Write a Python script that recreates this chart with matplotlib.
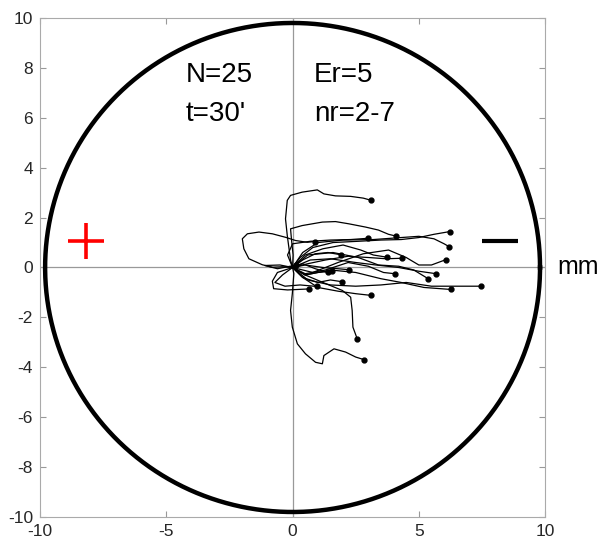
import numpy as np
import matplotlib.pyplot as plt

plt.rcParams['font.family'] = ['Liberation Sans', 'DejaVu Sans']
plt.rcParams['axes.unicode_minus'] = False

# arena / labels
arena_r = 9.8
x_ticks = [-10, -5, 0, 5, 10]
y_ticks = [-10, -8, -6, -4, -2, 0, 2, 4, 6, 8, 10]
txt_left = ["N=25", "t=30'"]
txt_right = ["Er=5", "nr=2-7"]

# waypoints of each track (mm)
paths = [
    [(0, 0), (-0.08, 0.3), (-0.21, 1.28), (-0.28, 1.95), (-0.21, 2.69), (-0.08, 2.89), (0.38, 3.02),
     (0.98, 3.11), (1.24, 2.95), (1.70, 2.87), (2.3, 2.85), (2.8, 2.78), (3.12, 2.69)],
    [(0, 0), (-0.4, 0.03), (-0.80, 0.01), (-1.20, 0.11), (-1.73, 0.35), (-1.93, 0.75), (-1.99, 1.15),
     (-1.79, 1.35), (-1.33, 1.42), (-0.80, 1.35), (-0.28, 1.21), (0.12, 1.08), (0.58, 1.01), (0.88, 1.04)],
    [(0, 0), (0.02, 0.5), (-0.05, 1.2), (-0.08, 1.55), (0.38, 1.68), (1.18, 1.82), (1.70, 1.84),
     (2.23, 1.75), (2.89, 1.62), (3.4, 1.5), (3.8, 1.33), (4.09, 1.26)],
    [(0, 0), (0.3, 0.4), (0.8, 0.8), (1.6, 1.0), (2.6, 1.05), (3.5, 1.1), (4.3, 1.12), (5.0, 1.2),
     (5.6, 1.33), (6.23, 1.44)],
    [(0, 0), (0.4, 0.6), (1.0, 1.0), (2.0, 1.1), (3.2, 1.12), (4.3, 1.2), (5.0, 1.25), (5.6, 1.15),
     (6.0, 0.95), (6.19, 0.84)],
    [(0, 0), (-0.2, 0.5), (0.0, 0.95), (0.7, 1.05), (1.5, 1.1), (2.3, 1.12), (2.98, 1.17)],
    [(0, 0), (0.5, 0.5), (1.2, 0.75), (2.0, 0.9), (2.7, 0.7), (3.2, 0.5), (3.75, 0.41)],
    [(0, 0), (0.6, 0.15), (1.3, 0.3), (2.2, 0.45), (3.0, 0.4), (3.7, 0.35), (4.34, 0.37)],
    [(0, 0), (0.8, -0.2), (1.8, 0.2), (2.8, 0.55), (3.8, 0.7), (4.5, 0.4), (5.0, 0.1), (5.5, 0.1),
     (5.9, 0.25), (6.09, 0.32)],
    [(0, 0), (0.4, 0.3), (0.9, 0.55), (1.4, 0.6), (1.91, 0.51)],
    [(0, 0), (0.7, 0.3), (1.5, 0.35), (2.5, 0.2), (3.3, 0.1), (4.2, 0.0), (5.0, -0.15), (5.69, -0.25)],
    [(0, 0), (0.6, 0.5), (1.6, 0.6), (2.6, 0.4), (3.4, 0.1), (4.2, 0.05), (4.8, -0.1), (5.37, -0.45)],
    [(0, 0), (0.5, -0.25), (1.3, -0.1), (2.2, 0.2), (3.0, 0.05), (3.6, -0.2), (4.05, -0.25)],
    [(0, 0), (0.5, 0.1), (1.2, 0.0), (1.8, -0.05), (2.24, -0.09)],
    [(0, 0), (0.5, -0.3), (1.0, -0.2), (1.57, -0.15)],
    [(0, 0), (0.4, 0.15), (0.9, -0.05), (1.39, -0.20)],
    [(0, 0), (0.4, -0.4), (1.0, -0.6), (1.5, -0.5), (1.95, -0.57)],
    [(0, 0), (0.6, -0.5), (1.5, -0.7), (2.5, -0.75), (3.5, -0.7), (4.5, -0.6), (5.5, -0.75),
     (6.5, -0.75), (7.46, -0.75)],
    [(0, 0), (0.5, -0.3), (1.5, -0.1), (2.5, -0.2), (3.5, -0.45), (4.3, -0.6), (5.2, -0.8), (6.26, -0.88)],
    [(0, 0), (-0.4, -0.3), (-0.7, -0.6), (-0.3, -0.75), (0.3, -0.7), (0.95, -0.76)],
    [(0, 0), (-0.6, -0.2), (-0.8, -0.55), (-0.75, -0.85), (-0.2, -0.9), (0.65, -0.86)],
    [(0, 0), (0.4, -0.4), (1.0, -0.8), (1.8, -0.95), (2.5, -1.05), (3.12, -1.12)],
    [(0, 0), (0.5, -0.3), (1.2, -0.6), (1.97, -0.92), (2.30, -1.19), (2.36, -1.72), (2.39, -2.39),
     (2.56, -2.86)],
    [(0, 0), (0.05, -0.25), (-0.01, -1.05), (-0.08, -1.72), (-0.01, -2.39), (0.19, -3.06), (0.51, -3.46),
     (0.91, -3.80), (1.18, -3.86), (1.24, -3.53), (1.64, -3.26), (2.10, -3.39), (2.50, -3.59),
     (2.82, -3.69)],
    [(0, 0), (-0.5, 0.1), (-1.1, 0.08), (-0.6, -0.05), (0.15, 0.1)],
]

fig = plt.figure(figsize=(6.07, 5.45), dpi=100)
ax = fig.add_axes([0.066, 0.0514, 0.832, 0.9156])

# arena
th = np.linspace(0, 2 * np.pi, 400)
ax.plot(arena_r * np.cos(th), arena_r * np.sin(th), color='black', lw=3.2, zorder=3)

# crosshair
ax.axhline(0, color='#999999', lw=0.9, zorder=1)
ax.axvline(0, color='#999999', lw=0.9, zorder=1)

for p in paths:
    p = np.array(p)
    ax.plot(p[:, 0], p[:, 1], color='black', lw=0.9, zorder=2)
    ax.plot(p[-1, 0], p[-1, 1], 'o', color='black', ms=3.5, zorder=4)

# electrodes
ax.plot(-8.2, 1.08, marker='+', color='red', ms=26, mew=2.6)
ax.plot(8.2, 1.08, marker='_', color='black', ms=26, mew=3.0)

ax.text(-4.25, 7.7, txt_left[0], fontsize=20, va='center')
ax.text(-4.25, 6.17, txt_left[1], fontsize=20, va='center')
ax.text(0.85, 7.7, txt_right[0], fontsize=20, va='center')
ax.text(0.85, 6.17, txt_right[1], fontsize=20, va='center')
ax.text(10.5, 0, "mm", fontsize=18, va='center', ha='left', clip_on=False)

ax.set_xlim(-10, 10)
ax.set_ylim(-10, 10)
ax.set_xticks(x_ticks)
ax.set_yticks(y_ticks)
ax.tick_params(direction='in', length=4, color='#999999', labelsize=12.5, labelcolor='#262626',
               top=True, right=True, labeltop=False, labelright=False, pad=5)
for s in ax.spines.values():
    s.set_color('#aaaaaa')
    s.set_linewidth(0.8)

plt.savefig('out.png', dpi=100)
